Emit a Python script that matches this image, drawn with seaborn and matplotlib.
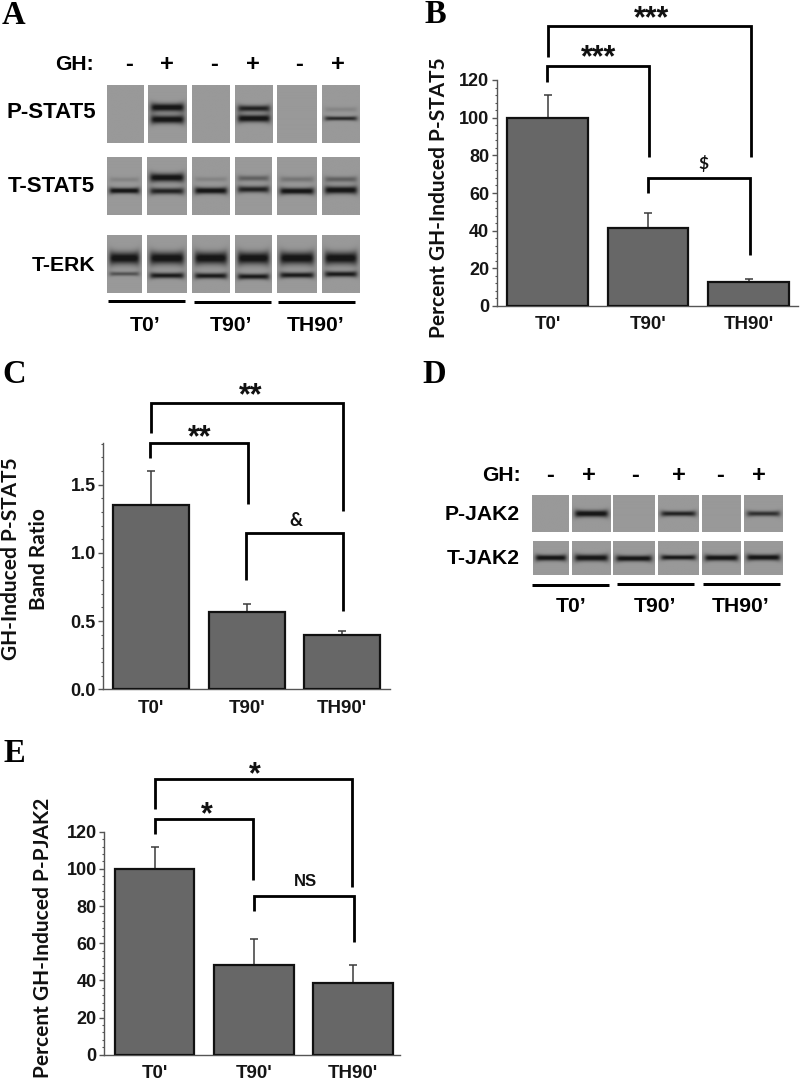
import numpy as np
import pandas as pd
import matplotlib
matplotlib.use("Agg")
import matplotlib.pyplot as plt
from matplotlib.ticker import MultipleLocator, FormatStrFormatter
import seaborn as sns

sns.set_theme(style="white")
plt.rcParams["font.family"] = ["Liberation Sans", "DejaVu Sans"]

categories = ["T0'", "T90'", "TH90'"]
b_values = [100, 41.3, 12.8]
b_tops = [112, 49.5, 14.5]
c_values = [1.35, 0.565, 0.40]
c_tops = [1.60, 0.625, 0.43]
e_values = [100, 48.5, 38.7]
e_tops = [111.5, 62, 48.5]
blot_groups = ["T0’", "T90’", "TH90’"]
gh_signs = ["-", "+", "-", "+", "-", "+"]

# blot band intensities, lane by lane: (height px, sigma px, darkness)
pstat5_bands = [[], [(107.3, 3.3, 1.0), (119.3, 3.3, 1.0)], [],
                [(108.3, 2.6, .85), (118.3, 3.0, 1.0)], [], [(109.3, 2.0, .14), (118.3, 1.7, .8)]]
tstat5_bands = [[(180.3, 2.0, .15), (191.3, 2.3, 1.0)], [(178.3, 3.4, 1.0), (191.7, 2.6, .85)],
                [(180, 2.0, .15), (191.3, 2.6, 1.0)], [(179, 2.3, .4), (190, 2.6, .85)],
                [(180, 2.3, .25), (191.7, 2.6, 1.0)], [(180, 2.3, .4), (190.7, 3.0, 1.0)]]
terk_bands = [[(258.3, 5.0, 1.0), (274, 1.7, .5)], [(258.3, 5.0, 1.0), (275.7, 2.3, .9)],
              [(258.3, 5.0, 1.0), (276, 2.3, .9)], [(258.3, 5.0, 1.0), (276.7, 2.3, .9)],
              [(258.3, 5.0, 1.0), (275.3, 2.3, .9)], [(258.3, 5.0, 1.0), (274.3, 2.3, .9)]]
pjak2_bands = [[], [(514, 2.7, 1.0)], [], [(514, 2.1, .85)], [], [(514, 2.1, .75)]]
tjak2_bands = [[(557.7, 2.4, 1.0)], [(557.7, 2.7, 1.0)], [(558.3, 2.4, 1.0)],
               [(557.3, 2.0, .95)], [(557.7, 2.4, 1.0)], [(557.3, 2.4, 1.0)]]

W, H = 800, 1082
fig = plt.figure(figsize=(W / 100, H / 100), dpi=100, facecolor="white")


def px_axes(left, right, top, bottom, **kw):
    return fig.add_axes([left / W, 1 - bottom / H, (right - left) / W, (bottom - top) / H], **kw)


BAR = "#676767"
AXC = "#555555"


def bar_panel(left, right, top, bottom, first, step, values, tops, ymax, major, minor, fmt):
    ax = px_axes(left, right, top, bottom)
    df = pd.DataFrame({"group": categories, "value": values})
    sns.barplot(data=df, x="group", y="value", ax=ax, color=BAR, saturation=1,
                width=0.8, errorbar=None, edgecolor="#111111", linewidth=1.6, zorder=3)
    ax.errorbar(range(3), values, yerr=[np.zeros(3), np.array(tops) - np.array(values)],
                fmt="none", ecolor="#3a3a3a", elinewidth=1.1, capsize=2.6, capthick=1.1, zorder=2)
    ax.set_xlim((left - first) / step, (right - first) / step)
    ax.set_ylim(0, ymax)
    ax.set_xlabel("")
    ax.set_ylabel("")
    ax.yaxis.set_major_locator(MultipleLocator(major))
    ax.yaxis.set_minor_locator(MultipleLocator(minor))
    ax.yaxis.set_major_formatter(FormatStrFormatter(fmt))
    ax.tick_params(axis="y", which="major", left=True, length=3.5, width=1, color=AXC, pad=2,
                   labelsize=13, labelcolor="#151515")
    ax.tick_params(axis="y", which="minor", left=True, length=1.6, width=.8, color=AXC)
    ax.tick_params(axis="x", bottom=False, pad=1.5, labelsize=13.5, labelcolor="#151515")
    for lab in ax.get_xticklabels() + ax.get_yticklabels():
        lab.set_fontweight("bold")
    for s in ["top", "right"]:
        ax.spines[s].set_visible(False)
    for s in ["left", "bottom"]:
        ax.spines[s].set_color(AXC)
        ax.spines[s].set_linewidth(1.0)
    ax.patch.set_alpha(0)
    return ax


bar_panel(497, 798, 80, 306, 547.5, 100.5, b_values, b_tops, 120, 20, 4, "%d")
bar_panel(103.3, 390, 443.3, 689.3, 151.3, 95.4, c_values, c_tops, 1.803, .5, .1, "%.1f")
bar_panel(104.3, 400, 831.7, 1054.7, 154.5, 99.3, e_values, e_tops, 120, 20, 4, "%d")

ov = px_axes(0, W, 0, H, zorder=5)
ov.patch.set_alpha(0)
ov.axis("off")


def lane(x0, x1, y0, y1, bands):
    ny, nx = int((y1 - y0) * 3), int((x1 - x0) * 3)
    ys = np.linspace(y0, y1, ny)[:, None]
    u = np.linspace(-1, 1, nx)[None, :]
    env = 1 / (1 + np.exp((np.abs(u) - .84) * 14))
    img = np.zeros((ny, nx))
    for yc, s, d in bands:
        sig = s * 1.3 * (.78 + .5 * u ** 4)
        img = img + d * env * np.exp(-((ys - yc) / sig) ** 2 * .75)
    img = np.clip(img * 1.1, 0, 1)
    grey = .60 - .51 * img
    ov.imshow(grey, extent=(x0, x1, y1, y0), cmap="gray", vmin=0, vmax=1, aspect="auto",
              interpolation="bilinear", zorder=1)


lanes_a1 = [(107, 143.3), (148.3, 187.3), (192.3, 229.7), (234.7, 272), (277.3, 317.3), (322.3, 359.7)]
lanes_a2 = [(107, 142), (147.3, 187.3), (192.3, 229.7), (235, 272), (277.3, 317.3), (322.3, 359.7)]
lanes_d1 = [(532.3, 569), (572, 610.3), (613, 655), (658, 698.7), (701.7, 740.7), (744, 783)]
lanes_d2 = [(533, 569), (572, 610.3), (613, 655), (658.3, 698.7), (701.7, 740.7), (744, 783)]
for lanes_, y0, y1, rows in [(lanes_a1, 85, 142.7, pstat5_bands), (lanes_a2, 158, 215.3, tstat5_bands),
                             (lanes_a2, 235.3, 293, terk_bands), (lanes_d1, 495.7, 532, pjak2_bands),
                             (lanes_d2, 541, 574.7, tjak2_bands)]:
    for (x0, x1), bands in zip(lanes_, rows):
        lane(x0, x1, y0, y1, bands)

LW = 2.8 * 72 / 100


def bracket(xl, yl, ytop, xr, yr):
    ov.plot([xl, xl, xr, xr], [yl, ytop, ytop, yr], color="black", lw=LW, solid_joinstyle="miter",
            solid_capstyle="butt", zorder=3)


for br in [(547.7, 56.7, 26, 750.7, 157), (546.7, 81.7, 66, 649.3, 157), (647.7, 193, 178, 750.3, 255),
           (151.3, 433, 403, 342.7, 511), (149.7, 458, 443, 248.3, 504), (246, 580, 533, 342.7, 610.7),
           (154.7, 809, 779, 352, 887), (154.7, 834, 819, 253.3, 880), (254, 911, 895.7, 353.7, 941.7)]:
    bracket(*br)


def stars(x, y, s, size=22):
    ov.text(x, y + size * .32, s, ha="center", va="center", fontsize=size, fontweight="bold", color="#111111", zorder=4)


stars(651.7, 12.7, "***")
stars(598.7, 51.7, "***")
stars(250.7, 389, "**")
stars(199.3, 431.7, "**")
stars(254.7, 768, "*")
stars(206.7, 808, "*")
ov.text(703.7, 163, "$", ha="center", va="center", fontsize=12.5, fontweight="bold", color="#111111",
        family=["Lato"])
ov.text(295.7, 521, "&", ha="center", va="center", fontsize=13, fontweight="bold", color="#111111",
        family=["Lato"])
ov.text(305.3, 882, "NS", ha="center", va="center", fontsize=12, fontweight="bold", color="#111111")

for s, x, y in [("A", 13, 24), ("B", 435, 23), ("C", 14, 383), ("D", 434, 383), ("E", 14, 762)]:
    ov.text(x, y, s, ha="center", va="baseline", fontsize=23.5, fontweight="bold", family=["Liberation Serif"],
            color="black")

BLOT = 15.2
for xr, ys, xs, ym in [(94, 64.3, [128.7, 167.3, 214, 253.3, 299, 338], 64.3),
                       (520.7, 475.7, [549.7, 588.7, 634.7, 679.3, 719.7, 759], 475.7)]:
    ov.text(xr, ys, "GH:", ha="right", va="center", fontsize=BLOT, fontweight="bold", color="black")
    for sg, x in zip(gh_signs, xs):
        ov.text(x, ym, sg, ha="center", va="center", fontsize=17, fontweight="bold", color="black")

for s, xr, y, fs in [("P-STAT5", 96, 112.7, 16), ("T-STAT5", 95.3, 186.7, 16), ("T-ERK", 95, 265.3, BLOT),
                     ("P-JAK2", 520, 515, BLOT), ("T-JAK2", 520, 558.3, BLOT)]:
    ov.text(xr, y, s, ha="right", va="center", fontsize=fs, fontweight="bold", color="black")

for (x0, x1, yl), s, xt, yt in [((107.7, 185, 301.3), blot_groups[0], 145, 325.7),
                                ((194, 271.3, 302), blot_groups[1], 231, 325.7),
                                ((278, 355.3, 302), blot_groups[2], 315.7, 325.7),
                                ((531.7, 609, 585), blot_groups[0], 571, 606),
                                ((617, 694, 584.3), blot_groups[1], 655, 606),
                                ((703, 780.3, 584.3), blot_groups[2], 740.7, 606)]:
    ov.plot([x0, x1], [yl, yl], color="black", lw=3 * .72, solid_capstyle="butt", zorder=3)
    ov.text(xt, yt, s, ha="center", va="center", fontsize=BLOT, fontweight="bold", color="black")

YLAB = 15
for s, x, y in [("Percent GH-Induced P-STAT5", 439, 198), ("GH-Induced P-STAT5", 11, 559),
                ("Band Ratio", 39, 559), ("Percent GH-Induced P-PJAK2", 43.5, 938)]:
    ov.text(x, y, s, rotation=90, ha="center", va="center", fontsize=YLAB, fontweight="bold",
            family=["Lato"], color="#111111")

ov.set_xlim(0, W)
ov.set_ylim(H, 0)
fig.savefig("out.png", dpi=100, facecolor="white")
